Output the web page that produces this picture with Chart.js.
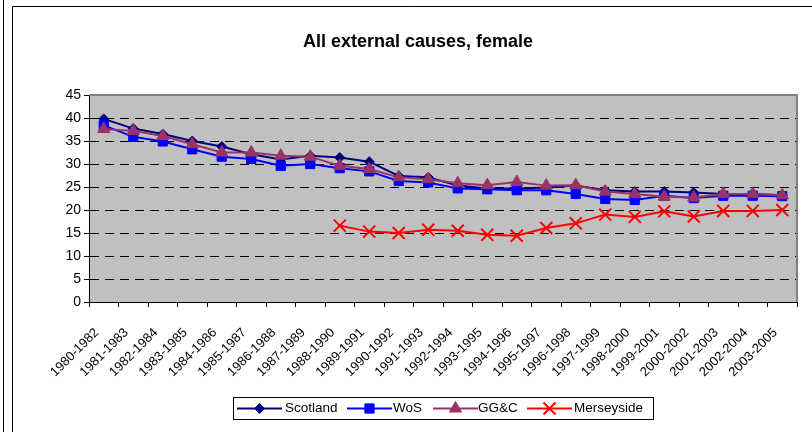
<!DOCTYPE html>
<html>
<head>
<meta charset="utf-8">
<script src="https://cdn.jsdelivr.net/npm/chart.js@4/dist/chart.umd.min.js"></script>
<style>
  html, body { margin: 0; padding: 0; background: #fff; }
  #wrap { width: 812px; height: 432px; }
</style>
</head>
<body>
<div id="wrap"><canvas id="chart" width="812" height="432"></canvas></div>
<script>
const periods = ['1980-1982', '1981-1983', '1982-1984', '1983-1985', '1984-1986', '1985-1987',
  '1986-1988', '1987-1989', '1988-1990', '1989-1991', '1990-1992', '1991-1993', '1992-1994',
  '1993-1995', '1994-1996', '1995-1997', '1996-1998', '1997-1999', '1998-2000', '1999-2001',
  '2000-2002', '2001-2003', '2002-2004', '2003-2005'];

const scotland = [39.8, 37.7, 36.5, 35.0, 33.8, 32.1, 31.0, 31.8, 31.4, 30.5, 27.4, 27.1,
  25.3, 24.7, 24.7, 24.9, 25.3, 24.3, 24.0, 24.0, 23.8, 23.5, 23.5, 23.2];
const wos = [38.4, 35.9, 34.9, 33.2, 31.6, 31.1, 29.6, 30.0, 29.1, 28.4, 26.3, 26.0,
  24.7, 24.5, 24.3, 24.3, 23.5, 22.4, 22.2, 23.1, 22.6, 23.1, 23.1, 23.0];
const ggc = [37.6, 37.2, 36.1, 34.3, 32.5, 32.5, 31.8, 31.6, 29.6, 28.9, 27.1, 26.7,
  25.8, 25.4, 26.1, 25.3, 25.4, 24.0, 23.5, 22.9, 22.7, 23.5, 23.5, 23.2];
const merseyside = [null, null, null, null, null, null, null, null, 16.6, 15.3, 15.0, 15.7,
  15.5, 14.6, 14.4, 16.1, 17.1, 19.0, 18.5, 19.7, 18.6, 19.8, 19.8, 20.0];

const yTicks = [0, 5, 10, 15, 20, 25, 30, 35, 40, 45];

const FONT = 'Arial, "Liberation Sans", sans-serif';

function series(label, data, color, style, radius, order) {
  return {
    label: label,
    data: data,
    borderColor: color,
    backgroundColor: color,
    borderWidth: 2,
    pointStyle: style,
    pointRadius: radius,
    pointHoverRadius: radius,
    pointBorderWidth: style === 'crossRot' ? 2 : 1,
    pointBorderColor: color,
    pointBackgroundColor: color,
    tension: 0,
    spanGaps: false,
    order: order
  };
}

const datasets = [
  series('Scotland', scotland, '#000080', 'rectRot', 5, 4),
  series('WoS', wos, '#0000FF', 'rect', 6.5, 3),
  series('GG&C', ggc, '#993366', 'triangle', 7, 2),
  series('Merseyside', merseyside, '#FF0000', 'crossRot', 8.5, 1)
];

function drawMark(ctx, style, x, y, r) {
  ctx.beginPath();
  if (style === 'rectRot') {
    ctx.moveTo(x, y - r); ctx.lineTo(x + r, y); ctx.lineTo(x, y + r); ctx.lineTo(x - r, y);
    ctx.closePath(); ctx.fill(); ctx.stroke();
  } else if (style === 'rect') {
    const s = r * Math.SQRT1_2;
    ctx.rect(x - s, y - s, 2 * s, 2 * s); ctx.fill(); ctx.stroke();
  } else if (style === 'triangle') {
    for (let k = 0; k < 3; k++) {
      const ang = k * 2 * Math.PI / 3;
      const px = x + Math.sin(ang) * r, py = y - Math.cos(ang) * r;
      if (k === 0) ctx.moveTo(px, py); else ctx.lineTo(px, py);
    }
    ctx.closePath(); ctx.fill(); ctx.stroke();
  } else {
    const d = r * Math.SQRT1_2;
    ctx.moveTo(x - d, y - d); ctx.lineTo(x + d, y + d);
    ctx.moveTo(x + d, y - d); ctx.lineTo(x - d, y + d);
    ctx.stroke();
  }
}

// plot background, frame, title and legend
const decor = {
  id: 'decor',
  beforeDraw(chart) {
    const { ctx, chartArea: a } = chart;
    ctx.save();
    ctx.fillStyle = '#fff';
    ctx.fillRect(0, 0, chart.width, chart.height);
    ctx.fillStyle = '#C0C0C0';
    ctx.fillRect(a.left, a.top, a.right - a.left, a.bottom - a.top);
    // outer frames
    ctx.strokeStyle = '#000';
    ctx.lineWidth = 1;
    ctx.beginPath();
    ctx.moveTo(3.5, 0); ctx.lineTo(3.5, chart.height);
    ctx.moveTo(12.5, chart.height); ctx.lineTo(12.5, 6.5); ctx.lineTo(chart.width, 6.5);
    ctx.stroke();
    ctx.restore();
  },
  beforeDatasetsDraw(chart) {
    const { ctx, chartArea: a } = chart;
    ctx.save();
    ctx.strokeStyle = '#808080';
    ctx.lineWidth = 2;
    ctx.beginPath();
    ctx.moveTo(a.left, a.top); ctx.lineTo(a.right, a.top); ctx.lineTo(a.right, a.bottom);
    ctx.stroke();
    ctx.restore();
  },
  afterDraw(chart) {
    const ctx = chart.ctx;
    ctx.save();
    ctx.fillStyle = '#000';
    ctx.font = 'bold 18px ' + FONT;
    ctx.textAlign = 'center';
    ctx.textBaseline = 'middle';
    ctx.fillText('All external causes, female', 418, 42);

    // legend box
    ctx.strokeStyle = '#000';
    ctx.lineWidth = 1;
    ctx.strokeRect(233.5, 397.5, 420, 22);
    const items = [
      { x: 237, text: 285 },
      { x: 347, text: 393 },
      { x: 433, text: 478 },
      { x: 527, text: 574 }
    ];
    const ly = 408.5;
    ctx.font = '13.5px ' + FONT;
    ctx.textAlign = 'left';
    datasets.forEach((ds, i) => {
      const it = items[i];
      ctx.strokeStyle = ds.borderColor;
      ctx.lineWidth = 2;
      ctx.beginPath();
      ctx.moveTo(it.x, ly); ctx.lineTo(it.x + 45, ly);
      ctx.stroke();
      ctx.fillStyle = ds.borderColor;
      ctx.lineWidth = ds.pointBorderWidth;
      drawMark(ctx, ds.pointStyle, it.x + 22.5, ly, ds.pointRadius);
      ctx.fillStyle = '#000';
      ctx.fillText(ds.label, it.text, ly);
    });
    ctx.restore();
  }
};

new Chart(document.getElementById('chart'), {
  type: 'line',
  data: { labels: periods, datasets: datasets },
  plugins: [decor],
  options: {
    responsive: false,
    animation: false,
    devicePixelRatio: 1,
    layout: { padding: { left: 60, right: 15, top: 95, bottom: 0 } },
    plugins: {
      legend: { display: false },
      title: { display: false },
      tooltip: { enabled: false }
    },
    scales: {
      x: {
        offset: true,
        afterFit(scale) { scale.height = 130; },
        grid: {
          offset: true,
          drawOnChartArea: false,
          color: '#000',
          tickLength: 5
        },
        border: { color: '#000', width: 1 },
        ticks: {
          autoSkip: false,
          maxRotation: 45,
          minRotation: 45,
          padding: 18,
          labelOffset: -7,
          color: '#000',
          font: { family: FONT, size: 13 }
        }
      },
      y: {
        min: 0,
        max: 45,
        afterFit(scale) { scale.width = 29; },
        afterBuildTicks(scale) { scale.ticks = yTicks.map(v => ({ value: v })); },
        grid: {
          color: ctx => (ctx.tick && (ctx.tick.value === 0 || ctx.tick.value === 45)) ? 'rgba(0,0,0,0)' : '#000',
          tickColor: '#000',
          tickLength: 5,
          tickBorderDash: [],
          lineWidth: 1
        },
        border: { color: '#000', width: 1, dash: [9, 6] },
        ticks: {
          padding: 3,
          color: '#000',
          font: { family: FONT, size: 14 }
        }
      }
    }
  }
});
</script>
</body>
</html>
